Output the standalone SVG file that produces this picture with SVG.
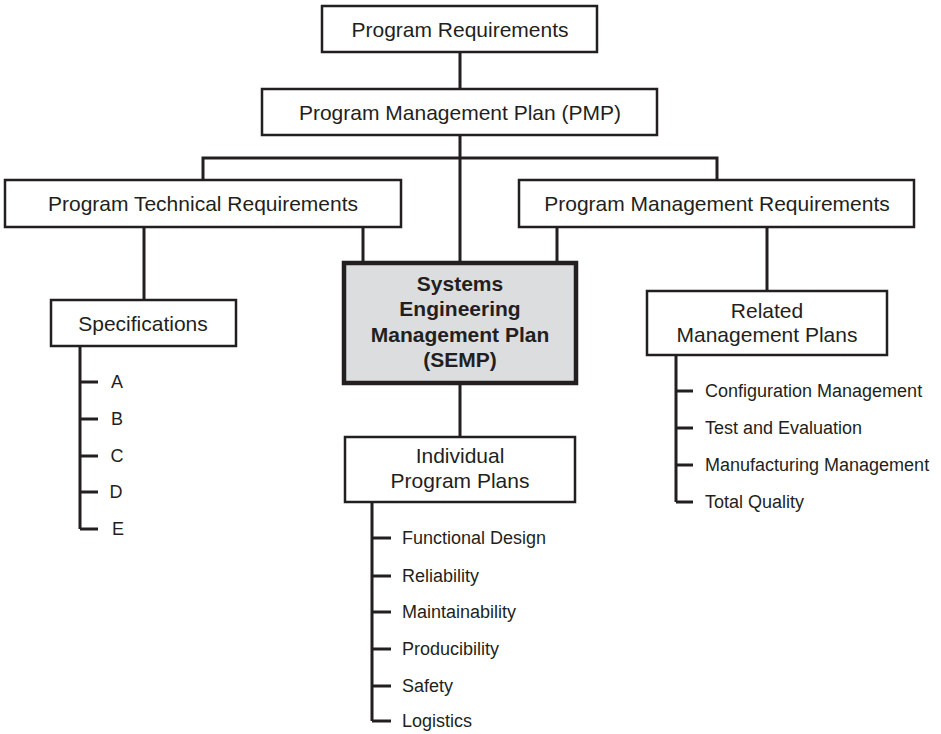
<svg xmlns="http://www.w3.org/2000/svg" width="941" height="734" viewBox="0 0 941 734">
<style>
.box{fill:#fff;stroke:#231f20;stroke-width:2.5}
.semp{fill:#dcdddf;stroke:#231f20;stroke-width:4.5}
.t{font-family:"Liberation Sans",Arial,sans-serif;font-size:21px;fill:#231f20;text-anchor:middle}
.b{font-weight:bold}
.s{font-family:"Liberation Sans",Arial,sans-serif;font-size:18px;fill:#231f20}
.c{fill:none;stroke:#231f20;stroke-width:3}
</style>
<rect width="941" height="734" fill="#fff"/>
<g id="connectors">
<path class="c" d="M460 52V89M460 135V263M203 180V158H717V180M144 227V300M363 227V263M557 227V263M767 227V291M460 383V437"/>
<path class="c" d="M80 346V529M80 382H98M80 419H98M80 456H98M80 492H98M80 529H98"/>
<path class="c" d="M372 502V721M372 538H391M372 576H391M372 612H391M372 649H391M372 686H391M372 721H391"/>
<path class="c" d="M676 355V502M676 391H693M676 428H693M676 465H693M676 502H693"/>
</g>
<g id="program-requirements">
<rect class="box" x="322" y="6" width="275" height="46"/>
<text class="t" x="460" y="37">Program Requirements</text>
</g>
<g id="pmp">
<rect class="box" x="262" y="89" width="395" height="46"/>
<text class="t" x="460" y="120">Program Management Plan (PMP)</text>
</g>
<g id="ptr">
<rect class="box" x="5" y="180" width="396" height="47"/>
<text class="t" x="203" y="211">Program Technical Requirements</text>
</g>
<g id="pmr">
<rect class="box" x="519" y="180" width="395" height="47"/>
<text class="t" x="717" y="211">Program Management Requirements</text>
</g>
<g id="semp">
<rect class="semp" x="344" y="263" width="232" height="120"/>
<text class="t b" x="460" y="290.5">Systems</text>
<text class="t b" x="460" y="316">Engineering</text>
<text class="t b" x="460" y="341.5">Management Plan</text>
<text class="t b" x="460" y="367">(SEMP)</text>
</g>
<g id="specifications">
<rect class="box" x="51" y="300" width="185" height="46"/>
<text class="t" x="143" y="331">Specifications</text>
<text class="s" x="117" y="388" text-anchor="middle">A</text>
<text class="s" x="117" y="425" text-anchor="middle">B</text>
<text class="s" x="117" y="462" text-anchor="middle">C</text>
<text class="s" x="116" y="498" text-anchor="middle">D</text>
<text class="s" x="118" y="535" text-anchor="middle">E</text>
</g>
<g id="related-management-plans">
<rect class="box" x="647" y="291" width="240" height="64"/>
<text class="t" x="767" y="318">Related</text>
<text class="t" x="767" y="342">Management Plans</text>
<text class="s" x="705" y="397">Configuration Management</text>
<text class="s" x="705" y="434">Test and Evaluation</text>
<text class="s" x="705" y="471">Manufacturing Management</text>
<text class="s" x="705" y="508">Total Quality</text>
</g>
<g id="individual-program-plans">
<rect class="box" x="345" y="437" width="230" height="65"/>
<text class="t" x="460" y="463">Individual</text>
<text class="t" x="460" y="488">Program Plans</text>
<text class="s" x="402" y="544">Functional Design</text>
<text class="s" x="402" y="582">Reliability</text>
<text class="s" x="402" y="618">Maintainability</text>
<text class="s" x="402" y="655">Producibility</text>
<text class="s" x="402" y="692">Safety</text>
<text class="s" x="402" y="727">Logistics</text>
</g>
</svg>
